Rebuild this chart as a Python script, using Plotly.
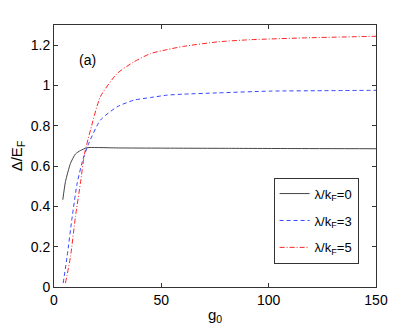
import plotly.graph_objects as go

# 读图估计的数据
g_black = [4.1, 5.35, 7.7, 10.0, 12.3, 15.4, 20, 30, 50, 80, 110, 150]
d_black = [0.433, 0.523, 0.614, 0.66, 0.677, 0.691, 0.692, 0.69, 0.689, 0.688, 0.687, 0.686]

g_blue = [4.3, 6.1, 8.5, 10.8, 13.4, 16.2, 21.6, 29.4, 37.2, 44.9, 52.7, 60.4, 76, 100.8, 125, 150]
d_blue = [0.02, 0.152, 0.35, 0.515, 0.63, 0.713, 0.828, 0.894, 0.927, 0.94, 0.952, 0.957, 0.963, 0.972, 0.974, 0.976]

g_red = [5.35, 7.7, 10.0, 12.3, 14.2, 17.0, 21.6, 29.4, 37.2, 44.9, 52.7, 60.4, 76, 91.5, 120, 150]
d_red = [0.02, 0.152, 0.35, 0.515, 0.66, 0.779, 0.944, 1.059, 1.117, 1.158, 1.178, 1.194, 1.216, 1.227, 1.237, 1.244]

x_ticks = [0, 50, 100, 150]
y_ticks = [0, 0.2, 0.4, 0.6, 0.8, 1.0, 1.2]

FONT = "Liberation Sans, Arial, sans-serif"

fig = go.Figure()
fig.add_trace(go.Scatter(x=g_black, y=d_black, mode="lines", legendgroup="a",
                         line=dict(color="#444444", width=1, shape="spline", smoothing=0.6),
                         name="λ/k<sub>F</sub>=0"))
fig.add_trace(go.Scatter(x=g_blue, y=d_blue, mode="lines", legendgroup="b",
                         line=dict(color="#3344ff", width=1, dash="4px,3px", shape="spline", smoothing=0.6),
                         name="λ/k<sub>F</sub>=3"))
fig.add_trace(go.Scatter(x=g_red, y=d_red, mode="lines", legendgroup="c",
                         line=dict(color="#ff2222", width=1, dash="5px,2px,1px,2px", shape="spline", smoothing=0.6),
                         name="λ/k<sub>F</sub>=5"))

axis_style = dict(showgrid=False, zeroline=False, showline=True, linecolor="#333333",
                  linewidth=1, mirror="allticks", ticks="inside", ticklen=4, automargin=False,
                  tickcolor="#333333", tickfont=dict(size=14, color="black", family=FONT))

fig.update_xaxes(range=[0, 150], tickvals=x_ticks, **axis_style,
                 title=dict(text="g<sub>0</sub>", font=dict(size=15, family=FONT), standoff=2))
fig.update_yaxes(range=[0, 1.3], tickvals=y_ticks, **axis_style,
                 title=dict(text="Δ/E<sub>F</sub>", font=dict(size=15, family=FONT), standoff=4))

fig.add_annotation(x=0.072, y=0.905, xref="paper", yref="paper", text="(a)",
                   showarrow=False, font=dict(size=14, family=FONT, color="black"))

fig.update_layout(
    width=415, height=327,
    margin=dict(l=53.5, r=39.3, t=24.5, b=39.5),
    paper_bgcolor="white", plot_bgcolor="white",
    font=dict(family=FONT, color="black"),
    legend=dict(x=0.682, y=0.4175, xanchor="left", yanchor="top",
                bordercolor="#333333", borderwidth=1, bgcolor="white",
                font=dict(size=13, family=FONT), itemwidth=30,
                tracegroupgap=7),
)

# 去掉页面默认边距和工具栏
fig.write_html("out.html", config={"displayModeBar": False},
               post_script="document.body.style.margin='0px';")
